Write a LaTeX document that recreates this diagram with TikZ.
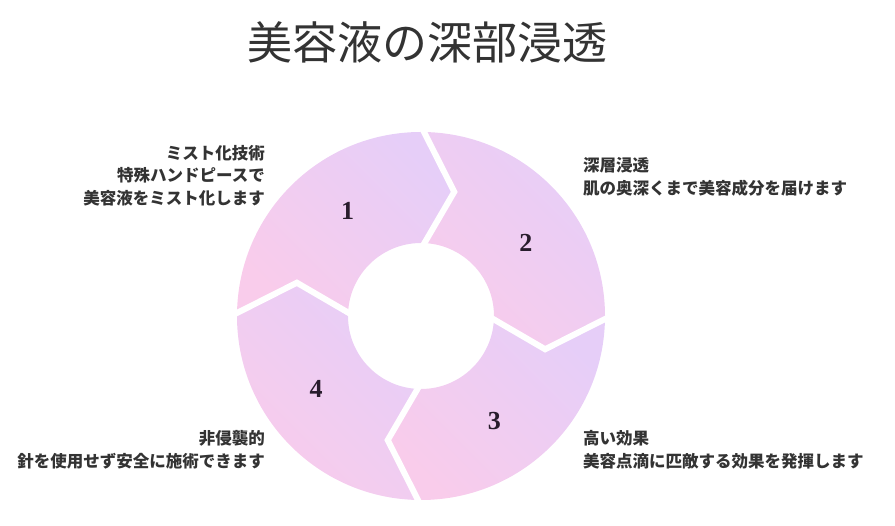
\documentclass[tikz,border=0pt]{standalone}
\usepackage{fontspec}
\newfontfamily\jpfont{Noto Sans CJK JP}
\newfontfamily\numfont{Liberation Serif}
\usepackage{tikz}
\usetikzlibrary{positioning,shadings}
\definecolor{ringpink}{RGB}{249,204,235}
\definecolor{ringlilac}{RGB}{230,206,248}
\definecolor{textgray}{RGB}{51,51,51}
\definecolor{numdark}{RGB}{40,28,44}
\tikzstyle{segment}=[top color=ringlilac, bottom color=ringpink, shading angle=-45]
\tikzstyle{gap}=[draw=white, line width=6pt, line join=miter]
\tikzstyle{stepnum}=[font={\numfont\bfseries\fontsize{26}{30}\selectfont}, text=numdark]
\tikzstyle{caption}=[font={\jpfont\bfseries\fontsize{16.5}{22.5}\selectfont}, text=textgray, inner sep=0pt]
\begin{document}
\begin{tikzpicture}[x=1pt,y=1pt]
\useasboundingbox (0,0) rectangle (895,526);

% title
\node[font={\jpfont\fontsize{45}{54}\selectfont}, text=textgray] (title) at (427,484) {美容液の深部浸透};

% ring
\begin{scope}[shift={(421,210)}]
\foreach \a in {180,90,0,-90}
  \shade[segment] (\a:184pt) arc[start angle=\a, end angle=\a-90, radius=184pt]
    -- ({\a-105}:128.5pt) -- ({\a-90}:73pt)
    arc[start angle=\a-90, end angle=\a, radius=73pt] -- ({\a-15}:128.5pt) -- cycle;
\foreach \a in {180,90,0,-90}
  \draw[gap] (\a:190pt) -- ({\a-15}:128.5pt) -- (\a:67pt);
% numbers
\foreach \a/\n in {180/1,90/2,0/3,-90/4}
  \node[stepnum] (n\n) at ({\a-55}:128pt) {\n};
\end{scope}

% captions
\node[caption, align=right, anchor=north east] (mist) at (265,381)
  {ミスト化技術\\特殊ハンドピースで\\美容液をミスト化します};
\node[caption, align=left, anchor=north west] (deep) at (583,368.5)
  {深層浸透\\肌の奥深くまで美容成分を届けます};
\node[caption, align=left, anchor=north west] (effect) at (583,95.5)
  {高い効果\\美容点滴に匹敵する効果を発揮します};
\node[caption, align=right, anchor=north east] (safe) at (265,95.5)
  {非侵襲的\\針を使用せず安全に施術できます};

\end{tikzpicture}
\end{document}
